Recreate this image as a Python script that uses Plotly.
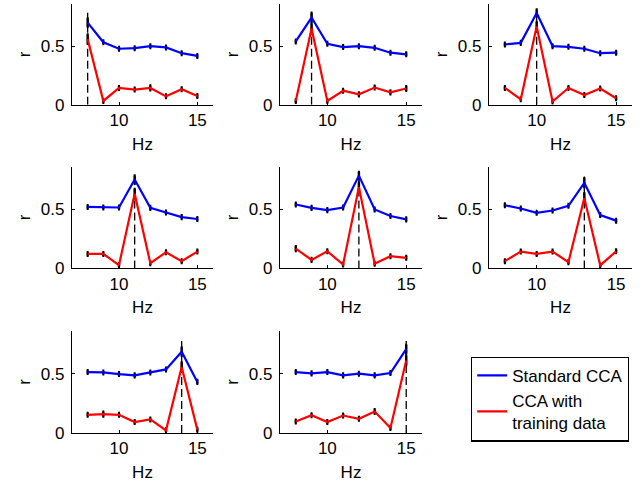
import plotly.graph_objects as go

freqs = [8, 9, 10, 11, 12, 13, 14, 15]
targets = [8, 9, 10, 11, 12, 13, 14, 15]

standard_cca = [
    [0.70, 0.533, 0.478, 0.483, 0.50, 0.489, 0.44, 0.417],
    [0.54, 0.744, 0.52, 0.492, 0.50, 0.486, 0.444, 0.43],
    [0.514, 0.528, 0.783, 0.50, 0.494, 0.478, 0.44, 0.444],
    [0.519, 0.514, 0.514, 0.75, 0.511, 0.472, 0.433, 0.417],
    [0.539, 0.511, 0.492, 0.514, 0.783, 0.497, 0.442, 0.414],
    [0.533, 0.506, 0.469, 0.489, 0.528, 0.722, 0.45, 0.403],
    [0.514, 0.511, 0.497, 0.486, 0.511, 0.536, 0.686, 0.431],
    [0.514, 0.503, 0.514, 0.486, 0.50, 0.486, 0.506, 0.708],
]
training_cca = [
    [0.56, 0.033, 0.144, 0.13, 0.144, 0.072, 0.133, 0.075],
    [0.033, 0.65, 0.033, 0.12, 0.089, 0.147, 0.106, 0.139],
    [0.144, 0.047, 0.667, 0.028, 0.144, 0.083, 0.139, 0.056],
    [0.122, 0.122, 0.028, 0.63, 0.044, 0.136, 0.061, 0.142],
    [0.167, 0.072, 0.144, 0.033, 0.686, 0.039, 0.103, 0.089],
    [0.061, 0.142, 0.122, 0.142, 0.053, 0.594, 0.025, 0.144],
    [0.153, 0.158, 0.153, 0.092, 0.114, 0.022, 0.556, 0.028],
    [0.097, 0.15, 0.092, 0.147, 0.119, 0.181, 0.042, 0.611],
]
standard_err = [
    [0.035, 0.015, 0.015, 0.015, 0.015, 0.015, 0.015, 0.015],
    [0.015, 0.04, 0.015, 0.015, 0.015, 0.015, 0.015, 0.015],
    [0.015, 0.015, 0.03, 0.015, 0.015, 0.015, 0.015, 0.015],
    [0.015, 0.015, 0.015, 0.035, 0.015, 0.015, 0.015, 0.015],
    [0.015, 0.015, 0.015, 0.015, 0.03, 0.015, 0.015, 0.015],
    [0.015, 0.015, 0.015, 0.015, 0.015, 0.04, 0.015, 0.015],
    [0.015, 0.015, 0.015, 0.015, 0.015, 0.015, 0.035, 0.015],
    [0.015, 0.015, 0.015, 0.015, 0.015, 0.015, 0.015, 0.035],
]
training_err = [
    [0.04, 0.015, 0.015, 0.015, 0.02, 0.015, 0.015, 0.015],
    [0.015, 0.04, 0.015, 0.015, 0.015, 0.015, 0.015, 0.02],
    [0.015, 0.015, 0.04, 0.015, 0.015, 0.015, 0.015, 0.015],
    [0.015, 0.015, 0.015, 0.04, 0.015, 0.015, 0.015, 0.015],
    [0.02, 0.015, 0.015, 0.015, 0.04, 0.015, 0.015, 0.015],
    [0.015, 0.015, 0.015, 0.015, 0.015, 0.04, 0.015, 0.015],
    [0.015, 0.02, 0.015, 0.015, 0.015, 0.015, 0.04, 0.015],
    [0.015, 0.015, 0.015, 0.015, 0.015, 0.02, 0.015, 0.04],
]
dash_top = 0.81
x_ticks = [10, 15]
y_ticks = [0, 0.5]
y_tick_labels = ["0", "0.5"]
legend_names = ["Standard CCA", "CCA with<br>training data"]

W, H = 644, 488
col_px = [(72, 213), (280, 422), (489, 632)]
row_px = [(4, 107), (170, 274), (338, 442)]

FONT = "Liberation Sans, Arial, sans-serif"
fig = go.Figure()

layout = {}
for i in range(8):
    r, c = divmod(i, 3)
    ax = "" if i == 0 else str(i + 1)
    xa, ya = "x" + ax, "y" + ax
    # dashed target marker
    fig.add_trace(go.Scatter(
        x=[targets[i], targets[i]], y=[0, dash_top], mode="lines",
        line=dict(color="black", width=1.3, dash="8px,4px"),
        xaxis=xa, yaxis=ya, showlegend=False, hoverinfo="skip"))
    fig.add_trace(go.Scatter(
        x=freqs, y=standard_cca[i], mode="lines",
        line=dict(color="#0000ff", width=2.2),
        error_y=dict(type="data", array=standard_err[i], color="black",
                     thickness=2.5, width=1),
        name=legend_names[0], legendgroup="std", showlegend=(i == 0),
        xaxis=xa, yaxis=ya))
    fig.add_trace(go.Scatter(
        x=freqs, y=training_cca[i], mode="lines",
        line=dict(color="#ff0000", width=2.2),
        error_y=dict(type="data", array=training_err[i], color="black",
                     thickness=2.5, width=1),
        name=legend_names[1], legendgroup="trn", showlegend=(i == 0),
        xaxis=xa, yaxis=ya))
    x0, x1 = col_px[c]
    y0, y1 = row_px[r]
    layout["xaxis" + ax] = dict(
        domain=[x0 / W, x1 / W], range=[7, 16], anchor=ya,
        tickvals=x_ticks, ticks="inside", ticklen=3, tickcolor="black",
        showline=True, linecolor="black", linewidth=1.2, showgrid=False,
        zeroline=False, ticklabelstandoff=0,
        tickfont=dict(size=17, color="black", family=FONT),
        title=dict(text="Hz", font=dict(size=17, color="black", family=FONT),
                   standoff=8))
    layout["yaxis" + ax] = dict(
        domain=[1 - y1 / H, 1 - y0 / H], range=[0, 0.86], anchor=xa,
        tickvals=y_ticks, ticktext=y_tick_labels, ticks="inside", ticklen=3,
        tickcolor="black", showline=True, linecolor="black", linewidth=1.2,
        showgrid=False, zeroline=False, ticklabelstandoff=3,
        tickfont=dict(size=17, color="black", family=FONT),
        title=dict(text="r", font=dict(size=17, color="black", family=FONT),
                   standoff=5))

fig.update_layout(
    **layout,
    width=W, height=H,
    margin=dict(l=0, r=0, t=0, b=0),
    paper_bgcolor="white", plot_bgcolor="white",
    font=dict(family=FONT, size=17, color="black"),
    legend=dict(x=471 / W, y=1 - 364 / H, xanchor="left", yanchor="top",
                bordercolor="black", borderwidth=1.2, bgcolor="white",
                font=dict(size=17, family=FONT, color="black"),
                tracegroupgap=0, itemwidth=30),
    showlegend=True,
)

fig.write_html("out.html",
               config={"displayModeBar": False},
               post_script="document.body.style.margin='0';"
                           "document.body.style.padding='0';")
